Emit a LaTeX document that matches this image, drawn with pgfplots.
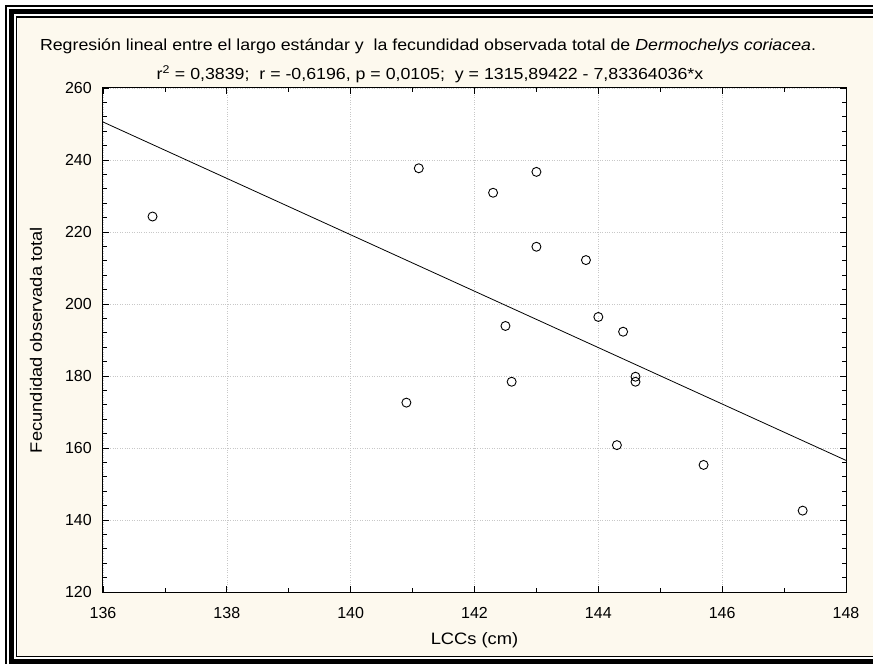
\documentclass[border=0pt]{standalone}
\usepackage{pgfplots}
\pgfplotsset{compat=1.18}
\usepackage{fontspec}
\setmainfont{Liberation Sans}
\newfontfamily\widesans[FakeStretch=1.11]{Liberation Sans}

\definecolor{panel}{RGB}{253,249,238}
\definecolor{gridgray}{RGB}{200,200,200}

% Measured data: straight carapace length (cm) vs. total observed fecundity
\pgfplotstableread{
x     y
136.8 224.3
141.1 237.7
140.9 172.6
142.3 230.9
142.5 193.9
142.6 178.4
143.0 236.7
143.0 215.9
143.8 212.2
144.0 196.4
144.3 160.8
144.4 192.3
144.6 179.8
144.6 178.4
145.7 155.3
147.3 142.6
}\fecundity

% Fitted line y = 1315.89422 - 7.83364036 x, evaluated at the axis ends
\pgfplotstableread{
x   y
136 250.5591
148 156.5554
}\fit

\begin{document}
\begin{tikzpicture}[x=1pt,y=1pt]
  % page extent (873 x 664), origin at the lower-left corner of the plot area
  \useasboundingbox (-103,-72) rectangle (770,592);
  % cream panel
  \fill[panel] (-85,-64) rectangle (770,574);
  % framed border: outer thin, thick, inner thin
  \draw[line width=2pt] (-97,-72) -- (-97,586) -- (770,586);
  \draw[line width=5pt] (-91.5,-72) -- (-91.5,580.5) -- (770,580.5);
  \draw[line width=1.6pt] (-86.5,-64.5) -- (-86.5,575) -- (770,575);
  \draw[line width=1.6pt] (-87.3,-64.5) -- (770,-64.5);
  \draw[line width=5pt] (-94,-69.5) -- (770,-69.5);

  \begin{axis}[
    at={(0,0)}, anchor=south west,
    scale only axis, width=743pt, height=504pt,
    xmin=136, xmax=148, ymin=120, ymax=260,
    xtick distance=2, ytick distance=20,
    minor x tick num=1, minor y tick num=4,
    tick align=inside,
    major tick length=6pt, minor tick length=4pt,
    tick style={black, line width=0.7pt},
    axis line style={black, line width=1pt},
    grid=major,
    major grid style={dotted, gridgray, line width=0.6pt},
    axis background/.style={fill=white},
    /pgf/number format/assume math mode=true,
    ticklabel style={font=\fontsize{16}{19}\selectfont},
    xticklabel style={inner sep=0pt, anchor=north, yshift=-15pt},
    yticklabel style={inner sep=0pt, anchor=east, xshift=-11pt},
    xlabel={LCCs (cm)},
    ylabel={Fecundidad observada total},
    every axis x label/.style={at={(axis description cs:0.5,-0.0952)}, anchor=center,
      font=\widesans\fontsize{16.5}{19}\selectfont},
    every axis y label/.style={at={(axis description cs:-0.0902,0.5)}, anchor=center, rotate=90,
      font=\widesans\fontsize{16.5}{19}\selectfont},
    clip=true,
  ]
    \addplot[black, line width=0.8pt] table[x=x, y=y] {\fit};
    \addplot[only marks, mark=o, mark size=4.5pt,
             mark options={black, fill=white, line width=0.9pt}]
      table[x=x, y=y] {\fecundity};
  \end{axis}

  % two-line heading
  \node[font=\widesans\fontsize{16}{19}\selectfont] at (325,546)
    {Regresión lineal entre el largo estándar y\ \ la fecundidad observada total de \textit{Dermochelys coriacea}.};
  \node[font=\widesans\fontsize{16}{19}\selectfont] at (327,518)
    {r\textsuperscript{2} = 0,3839;\ \ r = -0,6196, p = 0,0105;\ \ y = 1315,89422 - 7,83364036*x};
\end{tikzpicture}
\end{document}
